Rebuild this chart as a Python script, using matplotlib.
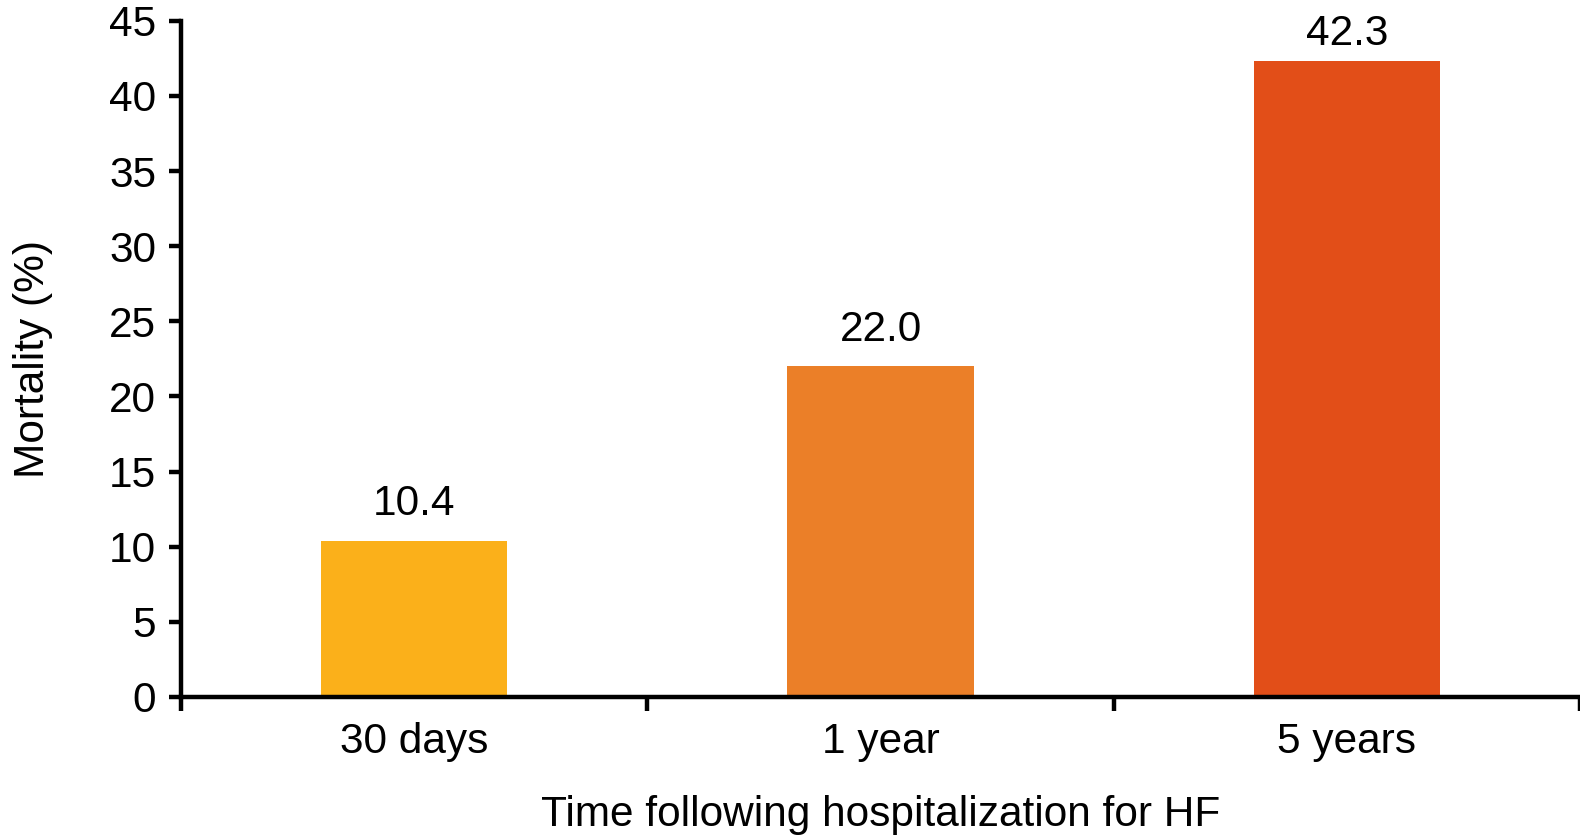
import matplotlib
matplotlib.use("Agg")
import matplotlib.pyplot as plt
import numpy as np

# mortality after hospitalization for heart failure
periods = ["30 days", "1 year", "5 years"]
mortality = [10.4, 22.0, 42.3]
bar_colors = ["#FBB01A", "#EB7F28", "#E24E18"]
yticks = [0, 5, 10, 15, 20, 25, 30, 35, 40, 45]

plt.rcParams["font.family"] = ["Liberation Sans", "DejaVu Sans"]
fs = 30.5
lw = 3.2

fig = plt.figure(figsize=(15.8, 8.35), dpi=100)
ax = fig.add_axes([0.1146, 0.1653, 0.8854, 0.8097])

x = np.arange(len(periods))
bars = ax.bar(x, mortality, width=0.4, color=bar_colors, zorder=1)

ymax = 45
for xi, v in zip(x, mortality):
    # labels near the top of the axis sit a little closer to their bar
    off = 12 if v < ymax - 5 else 5
    ax.annotate("%.1f" % v, (xi, v), xytext=(0, off), textcoords="offset points",
                ha="center", va="bottom", fontsize=fs)

ax.set_xlim(-0.5, 2.5)
ax.set_ylim(0, ymax)
ax.set_yticks(yticks)
ax.set_xticks(x)
ax.set_xticklabels(periods)
# category separators as minor ticks
ax.set_xticks([-0.5, 0.5, 1.5, 2.5], minor=True)

for side in ["top", "right"]:
    ax.spines[side].set_visible(False)
for side in ["left", "bottom"]:
    ax.spines[side].set_linewidth(lw)
    ax.spines[side].set_zorder(3)

ax.tick_params(axis="y", which="major", length=9, width=lw, labelsize=fs, pad=9)
ax.tick_params(axis="x", which="major", length=0, labelsize=fs, pad=18)
ax.tick_params(axis="x", which="minor", length=10, width=lw)

ax.set_ylabel("Mortality (%)", fontsize=fs, labelpad=40)
ax.set_xlabel("Time following hospitalization for HF", fontsize=fs, labelpad=24)

fig.savefig("out.png", dpi=100)
